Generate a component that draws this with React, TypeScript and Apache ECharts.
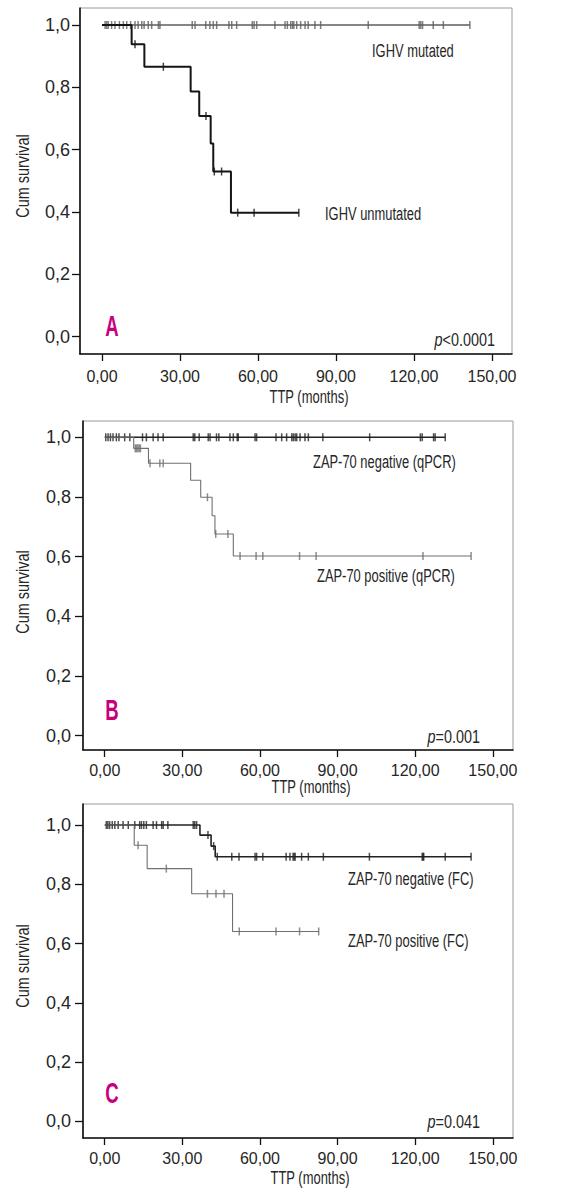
import React, { useEffect, useRef } from "react";
import * as echarts from "echarts";

// ---------- DATA ----------
const xTicks = [0, 30, 60, 90, 120, 150];
const yTicks = [0, 0.2, 0.4, 0.6, 0.8, 1.0];

// Panel A
const ighvMutTimes = [0, 141.5];
const ighvMutSurv = [1, 1];
const ighvMutCensors = [1.2, 1.8, 2.4, 3.7, 5, 6.7, 8.2, 9.5, 11.0, 12.7, 13.9, 15.3, 16.2, 17.8, 19.1, 21.7, 22.3, 34.7, 35.8, 39.9, 41.5, 42.8, 44.1, 48.8, 49.9, 51.8, 57.8, 58.5, 59.5, 66.5, 70.4, 71.3, 72.6, 73.3, 73.8, 74.9, 76.4, 78.1, 79.3, 81.9, 84.1, 102.4, 122.0, 122.6, 123.3, 127.4, 131.3, 141.5];
const ighvUnmutTimes = [0, 11.4, 16.3, 34.1, 37.4, 41.8, 42.8, 49.6, 75.7];
const ighvUnmutSurv = [1, 0.938, 0.866, 0.787, 0.708, 0.62, 0.53, 0.398, 0.398];
const ighvUnmutCensors = [12.7, 23.6, 40.0, 43.2, 46.0, 52.2, 58.5, 75.7];

// Panel B
const qpcrNegTimes = [0, 131.6];
const qpcrNegSurv = [1, 1];
const qpcrNegCensors = [0.4, 1.3, 2.2, 3.2, 4.5, 5.5, 7.7, 9.7, 14.6, 16.1, 18.7, 20.6, 22.6, 34.2, 34.8, 36.5, 40.0, 40.7, 43.2, 44.1, 48.4, 49.7, 51.2, 51.6, 58.1, 58.7, 66.2, 68.4, 70.3, 72.3, 72.9, 73.6, 74.2, 75.5, 77.4, 78.7, 84.3, 102.4, 122.0, 122.7, 127.1, 127.7, 131.6];
const qpcrPosTimes = [0, 11.2, 16.9, 33.2, 37.1, 41.5, 42.6, 49.7, 141.6];
const qpcrPosSurv = [1, 0.963, 0.913, 0.856, 0.799, 0.737, 0.676, 0.602, 0.602];
const qpcrPosCensors = [11.8, 12.3, 12.8, 13.3, 13.8, 17.5, 21.3, 22.6, 39.7, 42.9, 47.6, 52.3, 58.5, 61.1, 75.3, 81.7, 123.0, 141.6];

// Panel C
const fcNegTimes = [0, 36.8, 41.1, 42.7, 141.6];
const fcNegSurv = [1, 0.966, 0.929, 0.893, 0.893];
const fcNegCensors = [0.6, 1.2, 1.9, 2.9, 3.9, 5.2, 7.1, 9.1, 11.6, 13.5, 14.2, 15.1, 16.1, 18.7, 20.0, 22.0, 22.6, 24.4, 34.2, 34.8, 35.5, 39.9, 42.1, 43.5, 49.1, 51.9, 58.1, 58.7, 61.1, 70.1, 71.6, 72.8, 73.2, 73.6, 76.1, 78.7, 84.5, 102.3, 122.7, 123.0, 123.3, 131.6, 141.6];
const fcPosTimes = [0, 11.4, 16.4, 33.6, 49.4, 82.7];
const fcPosSurv = [1, 0.932, 0.853, 0.768, 0.641, 0.641];
const fcPosCensors = [12.9, 23.8, 39.7, 43.0, 46.1, 52.0, 66.2, 75.3, 82.7];

const seriesLabels = ["IGHV mutated", "IGHV unmutated", "ZAP-70 negative (qPCR)", "ZAP-70 positive (qPCR)", "ZAP-70 negative (FC)", "ZAP-70 positive (FC)"];
const panelLetters = ["A", "B", "C"];
const pValues = ["<0.0001", "=0.001", "=0.041"];

// ---------- STYLE ----------
const FONT = "'Liberation Sans', Arial, sans-serif";
const TXT = "#262626";
const MAGENTA = "#c8007d";

function survAt(times: number[], surv: number[], t: number) {
  let s = surv[0];
  for (let i = 0; i < times.length; i++) if (times[i] <= t) s = surv[i];
  return s;
}

const panels = [
  { left: 80, top: 8, width: 432, height: 346, xmin: -8.46, xmax: 157.7, ymin: -0.0555, ymax: 1.0545, xMargin: 14, yMargin: 10 },
  { left: 83, top: 421, width: 430, height: 329, xmin: -8.4, xmax: 157.8, ymin: -0.0486, ymax: 1.0547, xMargin: 12, yMargin: 12 },
  { left: 83, top: 804, width: 430, height: 334, xmin: -8.4, xmax: 157.8, ymin: -0.056, ymax: 1.071, xMargin: 12, yMargin: 12 },
];

export default function App() {
  const ref = useRef<HTMLDivElement>(null);
  useEffect(() => {
    if (!ref.current) return;
    const chart = echarts.init(ref.current, undefined, { renderer: "svg" });

    const grid = panels.map((p) => ({
      left: p.left, top: p.top, width: p.width, height: p.height,
      show: true, borderColor: "#9a9a9a", borderWidth: 1, backgroundColor: "transparent",
    }));
    const xAxis = panels.map((p, i) => ({
      type: "value", gridIndex: i, min: p.xmin, max: p.xmax,
      axisLine: { show: true, onZero: false, lineStyle: { color: "#111", width: 1.6 } },
      axisTick: { show: true, customValues: xTicks, length: 7, lineStyle: { color: "#111", width: 1.3 } },
      axisLabel: {
        customValues: xTicks, margin: p.xMargin, color: TXT, fontFamily: FONT, fontSize: 16, lineHeight: 16,
        formatter: (v: number) => v.toFixed(2).replace(".", ","),
      },
      splitLine: { show: false },
    }));
    const yAxis = panels.map((p, i) => ({
      type: "value", gridIndex: i, min: p.ymin, max: p.ymax,
      axisLine: { show: true, onZero: false, lineStyle: { color: "#111", width: 1.6 } },
      axisTick: { show: true, customValues: yTicks, length: 8, lineStyle: { color: "#111", width: 1.3 } },
      axisLabel: {
        customValues: yTicks, margin: p.yMargin, color: TXT, fontFamily: FONT, fontSize: 18,
        formatter: (v: number) => v.toFixed(1).replace(".", ","),
      },
      splitLine: { show: false },
    }));

    const curves = [
      { g: 0, t: ighvMutTimes, s: ighvMutSurv, c: ighvMutCensors, color: "#5e5e5e", w: 1.6 },
      { g: 0, t: ighvUnmutTimes, s: ighvUnmutSurv, c: ighvUnmutCensors, color: "#151515", w: 2 },
      { g: 1, t: qpcrNegTimes, s: qpcrNegSurv, c: qpcrNegCensors, color: "#222", w: 1.6 },
      { g: 1, t: qpcrPosTimes, s: qpcrPosSurv, c: qpcrPosCensors, color: "#707070", w: 1.1 },
      { g: 2, t: fcNegTimes, s: fcNegSurv, c: fcNegCensors, color: "#222", w: 1.6 },
      { g: 2, t: fcPosTimes, s: fcPosSurv, c: fcPosCensors, color: "#707070", w: 1.1 },
    ];
    const series: any[] = [];
    curves.forEach((cv) => {
      series.push({
        type: "line", xAxisIndex: cv.g, yAxisIndex: cv.g, step: "end", symbol: "none",
        lineStyle: { color: cv.color, width: cv.w },
        data: cv.t.map((t, i) => [t, cv.s[i]]),
        silent: true,
      });
      series.push({
        type: "scatter", xAxisIndex: cv.g, yAxisIndex: cv.g, symbol: "rect", symbolSize: [1.5, 8],
        itemStyle: { color: cv.color },
        data: cv.c.map((t) => [t, survAt(cv.t, cv.s, t)]),
        silent: true,
      });
    });

    const txt = (x: number, y: number, text: string, size: number, sx: number, extra: any = {}) => ({
      type: "text", x, y, scaleX: sx,
      style: { text, fill: TXT, font: `${size}px ${FONT}`, lineHeight: size, textVerticalAlign: "middle", ...extra },
    });
    const ytitle = (y: number) => ({
      type: "text", x: 23, y, rotation: Math.PI / 2, scaleX: 0.76,
      style: { text: "Cum survival", fill: TXT, font: `19px ${FONT}`, textAlign: "center", textVerticalAlign: "middle" },
    });
    const pval = (x: number, y: number, v: string) => ({
      type: "text", x, y, scaleX: 0.8,
      style: {
        text: "{i|p}{n|" + v + "}", textAlign: "right", textVerticalAlign: "middle", fill: TXT, font: `18px ${FONT}`,
        rich: {
          i: { fontStyle: "italic", fontFamily: FONT, fontSize: 18, fill: TXT },
          n: { fontFamily: FONT, fontSize: 18, fill: TXT },
        },
      },
    });

    const S = 19, N = 0.68;
    const graphic: any[] = [
      ytitle(176), ytitle(592), ytitle(966),
      txt(309, 397, "TTP (months)", 18, 0.72, { textAlign: "center" }),
      txt(311, 787, "TTP (months)", 18, 0.72, { textAlign: "center" }),
      txt(310, 1178, "TTP (months)", 18, 0.72, { textAlign: "center" }),
      txt(372, 50, seriesLabels[0], S, N),
      txt(325, 213, seriesLabels[1], S, N),
      txt(313, 461, seriesLabels[2], S, N),
      txt(317, 575, seriesLabels[3], S, N),
      txt(348, 878, seriesLabels[4], S, N),
      txt(348, 940, seriesLabels[5], S, N),
      txt(112, 325, panelLetters[0], 30, 0.62, { textAlign: "center", fill: MAGENTA, font: `bold 30px ${FONT}` }),
      txt(112, 709, panelLetters[1], 30, 0.62, { textAlign: "center", fill: MAGENTA, font: `bold 30px ${FONT}` }),
      txt(112, 1092, panelLetters[2], 30, 0.62, { textAlign: "center", fill: MAGENTA, font: `bold 30px ${FONT}` }),
      pval(495, 339, pValues[0]),
      pval(480, 736, pValues[1]),
      pval(480, 1121, pValues[2]),
    ];

    chart.setOption({
      animation: false,
      backgroundColor: "#ffffff",
      grid, xAxis, yAxis, series, graphic,
    });
    return () => chart.dispose();
  }, []);

  return <div ref={ref} style={{ position: "absolute", left: 0, top: 0, width: 564, height: 1188, background: "#fff" }} />;
}
